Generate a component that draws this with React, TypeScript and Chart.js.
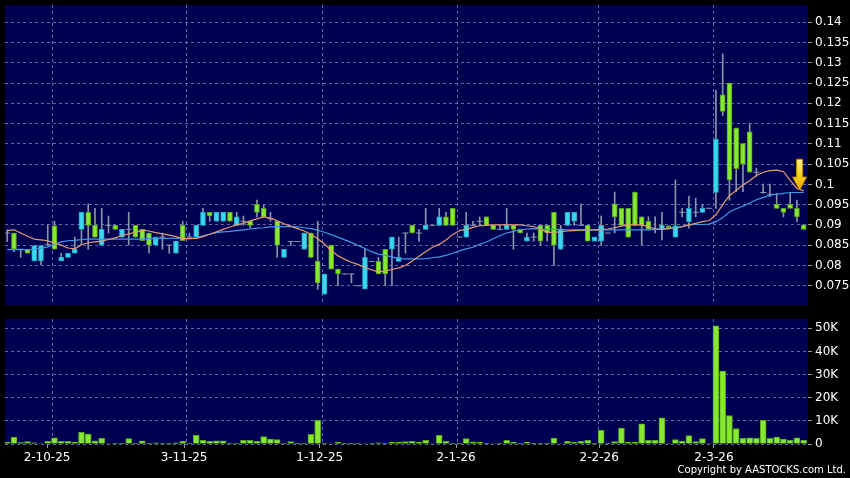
import React, { useEffect, useRef } from "react";
import { Chart, registerables } from "chart.js";
Chart.register(...registerables);

// ---------------- DATA ----------------
const opens = [
  0.0880, 0.0880, 0.0840, 0.0840, 0.0811, 0.0811, 0.0851, 0.0898, 0.0811, 0.0820,
  0.0830, 0.0889, 0.0931, 0.0899, 0.0850, 0.0899, 0.0899, 0.0870, 0.0889, 0.0899,
  0.0889, 0.0880, 0.0850, 0.0870, 0.0850, 0.0830, 0.0899, 0.0870, 0.0870, 0.0899,
  0.0931, 0.0909, 0.0909, 0.0931, 0.0899, 0.0909, 0.0909, 0.0951, 0.0941, 0.0915,
  0.0909, 0.0820, 0.0859, 0.0859, 0.0840, 0.0880, 0.0810, 0.0729, 0.0850, 0.0791,
  0.0779, 0.0779, 0.0750, 0.0742, 0.0810, 0.0810, 0.0840, 0.0840, 0.0810, 0.0880,
  0.0899, 0.0880, 0.0889, 0.0899, 0.0899, 0.0920, 0.0941, 0.0870, 0.0870, 0.0899,
  0.0909, 0.0920, 0.0899, 0.0889, 0.0889, 0.0899, 0.0889, 0.0860, 0.0870, 0.0899,
  0.0899, 0.0931, 0.0840, 0.0899, 0.0909, 0.0899, 0.0899, 0.0860, 0.0860, 0.0880,
  0.0952, 0.0941, 0.0941, 0.0981, 0.0920, 0.0909, 0.0890, 0.0889, 0.0898, 0.0870,
  0.0931, 0.0908, 0.0931, 0.0931, 0.0941, 0.0980, 0.1221, 0.1250, 0.1139, 0.1101,
  0.1130, 0.1030, 0.0980, 0.0976, 0.0951, 0.0941, 0.0951, 0.0941, 0.0900,
];
const highs = [
  0.0888, 0.0880, 0.0840, 0.0840, 0.0849, 0.0849, 0.0900, 0.0909, 0.0830, 0.0830,
  0.0870, 0.0931, 0.0952, 0.0941, 0.0941, 0.0922, 0.0899, 0.0889, 0.0931, 0.0899,
  0.0889, 0.0880, 0.0870, 0.0880, 0.0850, 0.0860, 0.0909, 0.0880, 0.0899, 0.0941,
  0.0931, 0.0931, 0.0931, 0.0931, 0.0931, 0.0922, 0.0909, 0.0961, 0.0949, 0.0931,
  0.0909, 0.0840, 0.0859, 0.0859, 0.0880, 0.0880, 0.0909, 0.0779, 0.0850, 0.0791,
  0.0779, 0.0779, 0.0750, 0.0840, 0.0810, 0.0820, 0.0840, 0.0870, 0.0870, 0.0880,
  0.0899, 0.0889, 0.0941, 0.0899, 0.0941, 0.0931, 0.0941, 0.0870, 0.0931, 0.0909,
  0.0920, 0.0920, 0.0899, 0.0899, 0.0941, 0.0899, 0.0889, 0.0880, 0.0880, 0.0899,
  0.0899, 0.0931, 0.0899, 0.0931, 0.0931, 0.0952, 0.0899, 0.0870, 0.0922, 0.0880,
  0.0981, 0.0941, 0.0941, 0.0981, 0.0920, 0.0920, 0.0920, 0.0931, 0.0898, 0.1011,
  0.0941, 0.0971, 0.0966, 0.0951, 0.0941, 0.1232, 0.1322, 0.1250, 0.1139, 0.1101,
  0.1150, 0.1040, 0.1001, 0.1001, 0.0978, 0.0941, 0.0978, 0.0961, 0.0900,
];
const lows = [
  0.0859, 0.0834, 0.0820, 0.0830, 0.0811, 0.0802, 0.0851, 0.0840, 0.0811, 0.0820,
  0.0830, 0.0851, 0.0840, 0.0870, 0.0850, 0.0880, 0.0889, 0.0870, 0.0850, 0.0870,
  0.0861, 0.0830, 0.0850, 0.0840, 0.0830, 0.0830, 0.0861, 0.0870, 0.0870, 0.0899,
  0.0909, 0.0909, 0.0909, 0.0909, 0.0899, 0.0899, 0.0892, 0.0920, 0.0920, 0.0909,
  0.0820, 0.0820, 0.0850, 0.0859, 0.0840, 0.0820, 0.0741, 0.0729, 0.0791, 0.0750,
  0.0779, 0.0757, 0.0750, 0.0742, 0.0810, 0.0779, 0.0750, 0.0750, 0.0810, 0.0830,
  0.0880, 0.0859, 0.0889, 0.0899, 0.0899, 0.0899, 0.0899, 0.0870, 0.0870, 0.0899,
  0.0899, 0.0899, 0.0889, 0.0889, 0.0889, 0.0840, 0.0880, 0.0860, 0.0860, 0.0850,
  0.0860, 0.0800, 0.0840, 0.0899, 0.0899, 0.0899, 0.0860, 0.0860, 0.0850, 0.0880,
  0.0880, 0.0899, 0.0870, 0.0899, 0.0850, 0.0889, 0.0880, 0.0863, 0.0893, 0.0870,
  0.0920, 0.0892, 0.0920, 0.0931, 0.0941, 0.0941, 0.1170, 0.0961, 0.0982, 0.0982,
  0.1030, 0.1020, 0.0978, 0.0970, 0.0941, 0.0920, 0.0941, 0.0908, 0.0889,
];
const closes = [
  0.0880, 0.0840, 0.0840, 0.0830, 0.0849, 0.0849, 0.0851, 0.0840, 0.0820, 0.0830,
  0.0840, 0.0931, 0.0899, 0.0870, 0.0889, 0.0899, 0.0889, 0.0889, 0.0889, 0.0870,
  0.0861, 0.0850, 0.0870, 0.0870, 0.0850, 0.0860, 0.0861, 0.0870, 0.0899, 0.0931,
  0.0922, 0.0931, 0.0931, 0.0909, 0.0920, 0.0909, 0.0899, 0.0931, 0.0920, 0.0915,
  0.0850, 0.0840, 0.0859, 0.0859, 0.0880, 0.0820, 0.0757, 0.0779, 0.0791, 0.0779,
  0.0779, 0.0779, 0.0750, 0.0820, 0.0810, 0.0779, 0.0779, 0.0870, 0.0820, 0.0880,
  0.0880, 0.0880, 0.0899, 0.0899, 0.0920, 0.0899, 0.0899, 0.0870, 0.0899, 0.0899,
  0.0909, 0.0899, 0.0889, 0.0889, 0.0899, 0.0889, 0.0880, 0.0870, 0.0870, 0.0860,
  0.0880, 0.0850, 0.0889, 0.0931, 0.0931, 0.0899, 0.0860, 0.0870, 0.0899, 0.0880,
  0.0920, 0.0899, 0.0870, 0.0899, 0.0899, 0.0889, 0.0890, 0.0900, 0.0893, 0.0898,
  0.0931, 0.0941, 0.0931, 0.0941, 0.0941, 0.1111, 0.1180, 0.1011, 0.1039, 0.1050,
  0.1030, 0.1030, 0.0980, 0.0976, 0.0941, 0.0931, 0.0941, 0.0920, 0.0889,
];
const volumes = [
  700, 3000, 600, 1000, 500, 200, 1100, 2700, 1100, 1100,
  700, 5000, 4300, 1400, 2400, 200, 100, 100, 2300, 100,
  1400, 100, 500, 100, 100, 500, 1100, 100, 3700, 1600,
  1100, 1400, 1400, 100, 300, 1600, 1600, 1100, 3200, 2100,
  1900, 100, 1000, 100, 100, 4200, 10200, 300, 200, 700,
  100, 100, 100, 200, 100, 500, 100, 700, 700, 1000,
  1100, 700, 1600, 200, 3700, 1100, 100, 100, 2300, 900,
  700, 300, 200, 100, 1600, 700, 300, 700, 100, 100,
  100, 2600, 200, 1100, 700, 1100, 1600, 300, 5900, 300,
  1000, 6900, 700, 700, 8700, 1600, 1600, 11300, 200, 1900,
  1300, 3600, 1000, 2300, 200, 51000, 31500, 12300, 6700, 2400,
  2700, 2400, 10200, 2400, 3000, 2100, 1600, 2700, 1600,
];
const maShort = [
  0.0886, 0.0888, 0.0880, 0.0872, 0.0865, 0.0863, 0.0861, 0.0855, 0.0850, 0.0843,
  0.0841, 0.0851, 0.0856, 0.0858, 0.0860, 0.0864, 0.0868, 0.0874, 0.0878, 0.0882,
  0.0887, 0.0885, 0.0881, 0.0878, 0.0875, 0.0871, 0.0867, 0.0866, 0.0867, 0.0871,
  0.0877, 0.0883, 0.0889, 0.0895, 0.0900, 0.0904, 0.0910, 0.0915, 0.0920, 0.0917,
  0.0910, 0.0903, 0.0897, 0.0891, 0.0885, 0.0877, 0.0866, 0.0853, 0.0837, 0.0824,
  0.0815, 0.0808, 0.0802, 0.0795, 0.0789, 0.0784, 0.0786, 0.0790, 0.0794, 0.0800,
  0.0811, 0.0823, 0.0834, 0.0845, 0.0852, 0.0863, 0.0876, 0.0886, 0.0889, 0.0894,
  0.0898, 0.0899, 0.0900, 0.0900, 0.0900, 0.0900, 0.0900, 0.0898, 0.0896, 0.0890,
  0.0881, 0.0882, 0.0883, 0.0885, 0.0886, 0.0887, 0.0888, 0.0888, 0.0888, 0.0890,
  0.0893, 0.0897, 0.0900, 0.0900, 0.0900, 0.0896, 0.0890, 0.0889, 0.0891, 0.0893,
  0.0896, 0.0900, 0.0904, 0.0908, 0.0911, 0.0925, 0.0950, 0.0972, 0.0985, 0.0999,
  0.1009, 0.1022, 0.1030, 0.1034, 0.1035, 0.1032, 0.1010, 0.0990, 0.0984,
];
const maLong = [
  0.0839, 0.0839, 0.0839, 0.0839, 0.0840, 0.0842, 0.0846, 0.0852, 0.0858, 0.0861,
  0.0862, 0.0864, 0.0865, 0.0865, 0.0865, 0.0865, 0.0865, 0.0865, 0.0865, 0.0865,
  0.0865, 0.0866, 0.0866, 0.0867, 0.0867, 0.0867, 0.0867, 0.0866, 0.0868, 0.0873,
  0.0877, 0.0881, 0.0883, 0.0884, 0.0886, 0.0888, 0.0890, 0.0892, 0.0893, 0.0895,
  0.0896, 0.0896, 0.0896, 0.0895, 0.0893, 0.0891, 0.0887, 0.0882, 0.0876, 0.0870,
  0.0863, 0.0857, 0.0849, 0.0842, 0.0834, 0.0828, 0.0825, 0.0821, 0.0817, 0.0816,
  0.0816, 0.0816, 0.0817, 0.0819, 0.0821, 0.0825, 0.0830, 0.0836, 0.0841, 0.0845,
  0.0852, 0.0858, 0.0866, 0.0874, 0.0880, 0.0884, 0.0888, 0.0890, 0.0891, 0.0890,
  0.0889, 0.0889, 0.0889, 0.0888, 0.0888, 0.0888, 0.0888, 0.0888, 0.0888, 0.0888,
  0.0888, 0.0888, 0.0888, 0.0888, 0.0888, 0.0888, 0.0889, 0.0890, 0.0891, 0.0893,
  0.0896, 0.0900, 0.0901, 0.0901, 0.0902, 0.0908, 0.0918, 0.0932, 0.0940, 0.0946,
  0.0954, 0.0962, 0.0968, 0.0973, 0.0976, 0.0978, 0.0980, 0.0980, 0.0980,
];
const priceTicks = [0.075, 0.08, 0.085, 0.09, 0.095, 0.1, 0.105, 0.11, 0.115, 0.12, 0.125, 0.13, 0.135, 0.14];
const volumeTicks = [0, 10000, 20000, 30000, 40000, 50000];
const volumeTickLabels = ["0", "10K", "20K", "30K", "40K", "50K"];
const dateLabels = ["2-10-25", "3-11-25", "1-12-25", "2-1-26", "2-2-26", "2-3-26"];
const dateLabelIdx = [5.9, 26.2, 46.3, 66.5, 87.7, 104.7];
const dateGridIdx = [6.6, 26.5, 46.6, 66.6, 87.5, 104.5];
const arrowIndex = 117.4;
const arrowTipValue = 0.0986;
const arrowTopValue = 0.1062;
const copyrightText = "Copyright by AASTOCKS.com Ltd.";

// ---------------- STYLE ----------------
const X_MIN = -0.33;
const X_MAX = 118.64;
const PRICE_MIN = 0.07024;
const PRICE_MAX = 0.14427;
const VOL_MAX = 54000;
const NAVY = "#000052";
const GRID = "rgba(135,135,185,0.75)";
const TICK_MARK = "#9a9aaa";
const CYAN = "#3ad8ee";
const CYAN_EDGE = "#22a9c2";
const LIME = "#86e830";
const LIME_EDGE = "#56a41a";
const WICK = "#8a94a8";
const MA_SHORT = "#e89a70";
const MA_LONG = "#3e98e6";
const FONT = "'DejaVu Sans', sans-serif";

const plotBg = {
  id: "plotBg",
  beforeDraw(chart: any) {
    const { ctx, chartArea: a } = chart;
    ctx.save();
    ctx.fillStyle = NAVY;
    ctx.fillRect(a.left, a.top, a.right - a.left, a.bottom - a.top);
    ctx.restore();
  },
};

// vertical date grid lines, placed through the x scale
const dateGrid = {
  id: "dateGrid",
  beforeDatasetsDraw(chart: any) {
    const { ctx, chartArea: a, scales } = chart;
    ctx.save();
    ctx.strokeStyle = GRID;
    ctx.lineWidth = 1;
    ctx.setLineDash([3, 3]);
    dateGridIdx.forEach((v) => {
      const x = Math.round(scales.x.getPixelForValue(v)) + 0.5;
      ctx.beginPath();
      ctx.moveTo(x, a.top);
      ctx.lineTo(x, a.bottom);
      ctx.stroke();
    });
    ctx.restore();
  },
};

const arrowPlugin = {
  id: "arrowMark",
  afterDatasetsDraw(chart: any) {
    const { ctx, scales } = chart;
    const x = scales.x.getPixelForValue(arrowIndex);
    const yTip = scales.y.getPixelForValue(arrowTipValue);
    const yTop = scales.y.getPixelForValue(arrowTopValue);
    const headH = 13;
    const headW = 7;
    const shaftW = 3;
    const yHead = yTip - headH;
    ctx.save();
    const g = ctx.createLinearGradient(0, yTop, 0, yTip);
    g.addColorStop(0, "#fff38a");
    g.addColorStop(0.5, "#f8d21c");
    g.addColorStop(1, "#eaa800");
    ctx.fillStyle = g;
    ctx.strokeStyle = "#c98a00";
    ctx.lineWidth = 1;
    ctx.beginPath();
    ctx.moveTo(x - shaftW, yTop);
    ctx.lineTo(x + shaftW, yTop);
    ctx.lineTo(x + shaftW, yHead);
    ctx.lineTo(x + headW, yHead);
    ctx.lineTo(x, yTip);
    ctx.lineTo(x - headW, yHead);
    ctx.lineTo(x - shaftW, yHead);
    ctx.closePath();
    ctx.fill();
    ctx.stroke();
    ctx.restore();
  },
};

function noPad(s: any) {
  s.paddingTop = 0;
  s.paddingBottom = 0;
  s.paddingLeft = 0;
  s.paddingRight = 0;
}

function hiddenXAxis() {
  return {
    type: "linear",
    position: "bottom",
    min: X_MIN,
    max: X_MAX,
    offset: false,
    afterFit: (s: any) => {
      s.height = 0;
      noPad(s);
    },
    grid: { display: false, drawTicks: false, offset: false },
    border: { display: false },
    ticks: { display: false },
  };
}

function rightAxis(min: number, max: number, tickVals: number[], label: (v: any, i: number) => string) {
  return {
    type: "linear",
    position: "right",
    min,
    max,
    afterBuildTicks: (s: any) => {
      s.ticks = tickVals.map((v) => ({ value: v }));
    },
    afterFit: (s: any) => {
      s.width = 42;
      noPad(s);
    },
    grid: { color: GRID, drawTicks: true, tickLength: 4, tickColor: TICK_MARK },
    border: { display: false, dash: [3, 3] },
    ticks: {
      color: "#ffffff",
      font: { size: 12, family: FONT },
      padding: 3,
      autoSkip: false,
      callback: label,
    },
  };
}

export default function App() {
  const priceRef = useRef<HTMLCanvasElement>(null);
  const volRef = useRef<HTMLCanvasElement>(null);

  useEffect(() => {
    Chart.defaults.font.family = FONT;
    const idx = opens.map((_, i) => i);
    const bodyIdx = idx.filter((i) => opens[i] !== closes[i]);
    const dojiIdx = idx.filter((i) => opens[i] === closes[i]);

    const priceChart = new Chart(priceRef.current as HTMLCanvasElement, {
      type: "bar",
      data: {
        datasets: [
          {
            type: "line",
            data: idx.map((i) => ({ x: i, y: maShort[i] })),
            borderColor: MA_SHORT,
            borderWidth: 1.2,
            pointRadius: 0,
            order: 0,
          } as any,
          {
            type: "line",
            data: idx.map((i) => ({ x: i, y: maLong[i] })),
            borderColor: MA_LONG,
            borderWidth: 1.2,
            pointRadius: 0,
            order: 0,
          } as any,
          {
            type: "bar",
            data: bodyIdx.map((i) => ({ x: i, y: [opens[i], closes[i]] })),
            backgroundColor: bodyIdx.map((i) => (closes[i] > opens[i] ? CYAN : LIME)),
            borderColor: bodyIdx.map((i) => (closes[i] > opens[i] ? CYAN_EDGE : LIME_EDGE)),
            borderWidth: 1,
            borderSkipped: false,
            barThickness: 5,
            grouped: false,
            order: 1,
          } as any,
          {
            type: "line",
            data: dojiIdx.map((i) => ({ x: i, y: closes[i] })),
            showLine: false,
            pointStyle: "line",
            pointRadius: 3,
            pointBorderColor: WICK,
            pointBorderWidth: 1,
            order: 2,
          } as any,
          {
            type: "bar",
            data: idx.map((i) => ({ x: i, y: [lows[i], highs[i]] })),
            backgroundColor: WICK,
            borderWidth: 0,
            barThickness: 1,
            grouped: false,
            order: 3,
          } as any,
        ],
      },
      options: {
        responsive: false,
        animation: false,
        devicePixelRatio: 1,
        layout: { padding: { left: 5, top: 5, right: 0, bottom: 7 } },
        plugins: { legend: { display: false }, tooltip: { enabled: false } },
        scales: {
          x: hiddenXAxis(),
          y: rightAxis(PRICE_MIN, PRICE_MAX, priceTicks, (v: any) => String(Number(Number(v).toFixed(3)))),
        },
      } as any,
      plugins: [plotBg, dateGrid, arrowPlugin],
    });

    const volChart = new Chart(volRef.current as HTMLCanvasElement, {
      type: "bar",
      data: {
        datasets: [
          {
            data: idx.map((i) => ({ x: i, y: volumes[i] })),
            backgroundColor: LIME,
            borderColor: LIME_EDGE,
            borderWidth: 1,
            borderSkipped: "bottom",
            barThickness: 6,
            grouped: false,
            xAxisID: "x",
            yAxisID: "y",
          } as any,
        ],
      },
      options: {
        responsive: false,
        animation: false,
        devicePixelRatio: 1,
        layout: { padding: { left: 5, top: 7, right: 0, bottom: 0 } },
        plugins: { legend: { display: false }, tooltip: { enabled: false } },
        scales: {
          x: hiddenXAxis(),
          xl: {
            type: "linear",
            position: "bottom",
            min: X_MIN,
            max: X_MAX,
            offset: false,
            afterBuildTicks: (s: any) => {
              s.ticks = dateLabelIdx.map((v) => ({ value: v }));
            },
            afterFit: (s: any) => {
              s.height = 34;
              noPad(s);
            },
            grid: { drawOnChartArea: false, drawTicks: true, tickLength: 4, tickColor: TICK_MARK, offset: false },
            border: { display: false },
            ticks: {
              color: "#ffffff",
              font: { size: 12, family: FONT },
              padding: 3,
              autoSkip: false,
              maxRotation: 0,
              minRotation: 0,
              callback: (_v: any, index: number) => dateLabels[index],
            },
          },
          y: rightAxis(0, VOL_MAX, volumeTicks, (_v: any, index: number) => volumeTickLabels[index]),
        },
      } as any,
      plugins: [plotBg, dateGrid],
    });

    return () => {
      priceChart.destroy();
      volChart.destroy();
    };
  }, []);

  return (
    <div
      style={{
        position: "fixed",
        left: 0,
        top: 0,
        width: 850,
        height: 478,
        background: "#000000",
        overflow: "hidden",
      }}
    >
      <canvas
        ref={priceRef}
        width={850}
        height={312}
        style={{ position: "absolute", left: 0, top: 0, width: 850, height: 312 }}
      />
      <canvas
        ref={volRef}
        width={850}
        height={166}
        style={{ position: "absolute", left: 0, top: 312, width: 850, height: 166 }}
      />
      <div
        style={{
          position: "absolute",
          right: 4,
          top: 464,
          color: "#ffffff",
          fontFamily: FONT,
          fontSize: 10,
          lineHeight: "12px",
          whiteSpace: "nowrap",
        }}
      >
        {copyrightText}
      </div>
    </div>
  );
}
